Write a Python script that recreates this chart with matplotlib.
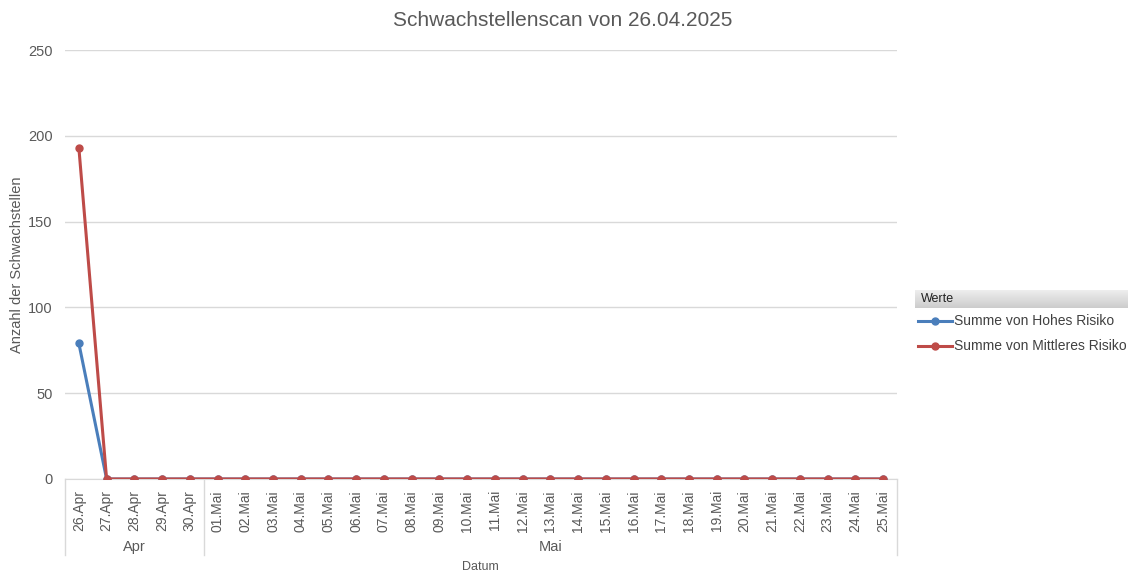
import matplotlib
matplotlib.use("Agg")
import matplotlib.pyplot as plt
from matplotlib.lines import Line2D
import numpy as np

plt.rcParams['font.family'] = ['Liberation Sans', 'DejaVu Sans']

dates = ["26.Apr", "27.Apr", "28.Apr", "29.Apr", "30.Apr"] + ["%02d.Mai" % d for d in range(1, 26)]
groups = ["Apr", "Mai"]
group_sizes = [5, 25]
hohes = [79] + [0] * 29
mittleres = [193] + [0] * 29
series_names = ["Summe von Hohes Risiko", "Summe von Mittleres Risiko"]
colors = ["#4a7ebb", "#be4b48"]
yticks = [0, 50, 100, 150, 200, 250]

W, H = 1128, 574
fig = plt.figure(figsize=(W / 100, H / 100), dpi=100)
ax = fig.add_axes([65 / W, 1 - 479 / H, (897 - 65) / W, (479 - 50) / H])

x = np.arange(len(dates))
ax.plot(x, hohes, color=colors[0], lw=2.2, marker='o', ms=5, zorder=3)
ax.plot(x, mittleres, color=colors[1], lw=2.2, marker='o', ms=5, zorder=4)

ax.set_xlim(-0.5, len(dates) - 0.5)
ax.set_ylim(0, 250)
ax.set_yticks(yticks)
ax.set_yticklabels([str(v) for v in yticks], fontsize=10.5, color="#595959")
ax.tick_params(axis='y', length=0, pad=9)
ax.grid(axis='y', color="#d9d9d9", lw=1)
ax.set_axisbelow(True)
for s in ["top", "right", "left"]:
    ax.spines[s].set_visible(False)
ax.spines["bottom"].set_color("#d9d9d9")

ax.set_xticks(x)
ax.set_xticklabels(dates, rotation=90, fontsize=10, color="#595959", va='top')
ax.tick_params(axis='x', length=0, pad=8)

# group separators and labels
trans = ax.get_xaxis_transform()
sep_bottom = -(555 - 479) / (479 - 50)
bounds = [-0.5]
for g in group_sizes:
    bounds.append(bounds[-1] + g)
for b in bounds:
    ax.plot([b, b], [0, sep_bottom], transform=trans, color="#d9d9d9", lw=1, clip_on=False)
for i, g in enumerate(groups):
    cx = (bounds[i] + bounds[i + 1]) / 2
    ax.text(cx, -(547 - 479) / (479 - 50), g, transform=trans, ha='center', va='center',
            fontsize=10.5, color="#595959")

fig.text(480 / W, 1 - 567 / H, "Datum", ha='center', va='center', fontsize=9, color="#595959")
fig.text(17 / W, 1 - 265 / H, "Anzahl der Schwachstellen", rotation=90, ha='center', va='center',
         fontsize=10.5, color="#595959")
fig.text(563 / W, 1 - 20 / H, "Schwachstellenscan von 26.04.2025", ha='center', va='center',
         fontsize=15, color="#595959")

# legend with header
hdr = fig.add_axes([915 / W, 1 - 308 / H, (1128 - 915) / W, 18 / H])
grad = np.linspace(0.93, 0.80, 50).reshape(-1, 1)
hdr.imshow(grad, cmap='gray', vmin=0, vmax=1, aspect='auto', extent=[0, 1, 0, 1])
hdr.axis('off')
hdr.text(0.03, 0.5, "Werte", ha='left', va='center', fontsize=9, color="#222222")

for i, (name, c) in enumerate(zip(series_names, colors)):
    yy = 1 - (321 + 25 * i) / H
    fig.add_artist(Line2D([918 / W, 952 / W], [yy, yy], color=c, lw=2.2, marker=None))
    fig.add_artist(Line2D([935 / W], [yy], color=c, marker='o', ms=5))
    fig.text(954 / W, yy, name, ha='left', va='center', fontsize=10, color="#404040")

fig.savefig("out.png", dpi=100)
